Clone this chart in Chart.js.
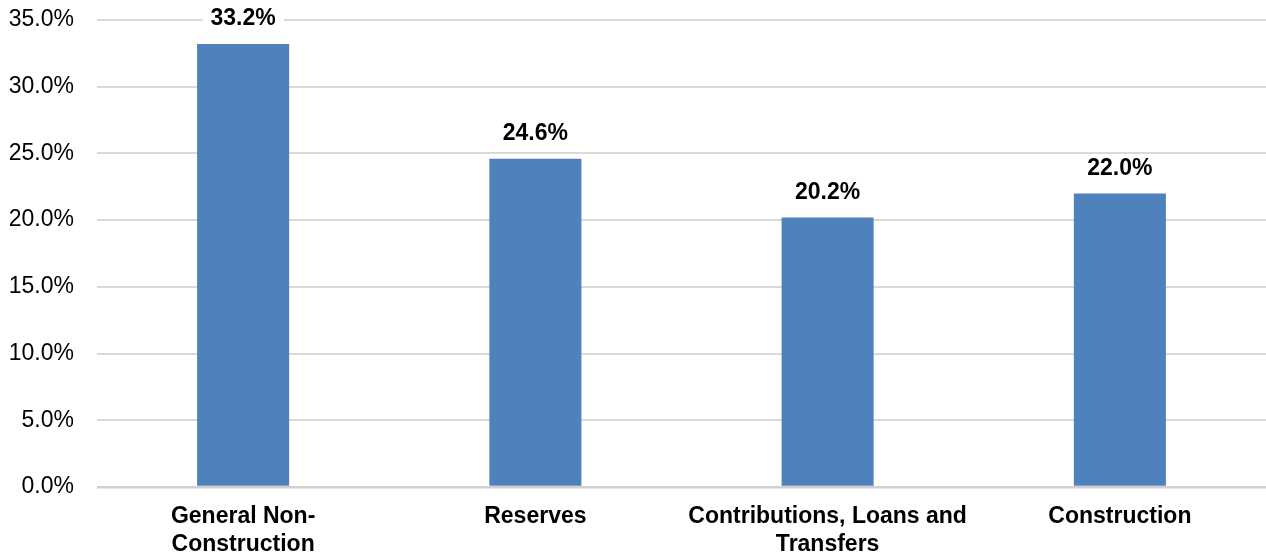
<!DOCTYPE html>
<html>
<head>
<meta charset="utf-8">
<script src="https://cdn.jsdelivr.net/npm/chart.js@4/dist/chart.umd.min.js"></script>
<style>
  html, body { margin: 0; padding: 0; background: #fff; }
  #wrap { width: 1266px; height: 552px; position: relative; }
</style>
</head>
<body>
<div id="wrap"><canvas id="chart"></canvas></div>
<script>
const categories = [
  ['General Non-', 'Construction'],
  'Reserves',
  ['Contributions, Loans and', 'Transfers'],
  'Construction'
];
const shares = [33.2, 24.6, 20.2, 22.0];
const yTicks = [0, 5, 10, 15, 20, 25, 30, 35];

const FONT = '"Liberation Sans", Arial, sans-serif';

// value labels above bars, with a white box that cuts the gridline
const valueLabels = {
  id: 'valueLabels',
  afterDatasetsDraw(chart) {
    const ctx = chart.ctx;
    const meta = chart.getDatasetMeta(0);
    ctx.save();
    ctx.font = 'bold 23px ' + FONT;
    ctx.textAlign = 'center';
    ctx.textBaseline = 'middle';
    meta.data.forEach((bar, i) => {
      const text = shares[i].toFixed(1) + '%';
      const w = ctx.measureText(text).width;
      const y = bar.y - 25;
      ctx.fillStyle = '#fff';
      ctx.fillRect(bar.x - w / 2 - 8, y - 13, w + 16, 26);
      ctx.fillStyle = '#000';
      ctx.fillText(text, bar.x, y);
    });
    ctx.restore();
  }
};

new Chart(document.getElementById('chart'), {
  type: 'bar',
  data: {
    labels: categories,
    datasets: [{
      data: shares,
      backgroundColor: '#4f81bd',
      barPercentage: 0.315,
      categoryPercentage: 1
    }]
  },
  options: {
    responsive: true,
    maintainAspectRatio: false,
    animation: false,
    layout: { padding: { top: 20, right: 0, left: 0, bottom: 0 } },
    plugins: {
      legend: { display: false },
      tooltip: { enabled: false }
    },
    scales: {
      x: {
        grid: { display: false, drawTicks: false },
        border: { display: false },
        ticks: {
          color: '#000',
          padding: 16,
          maxRotation: 0,
          autoSkip: false,
          font: { family: FONT, size: 23, weight: 'bold', lineHeight: 1.2 }
        },
        afterFit(scale) {
          scale.height = 65;
          scale.paddingLeft = 0;
          scale.paddingRight = 0;
        }
      },
      y: {
        min: 0,
        max: 35,
        afterBuildTicks(scale) { scale.ticks = yTicks.map((v) => ({ value: v })); },
        grid: {
          drawTicks: false,
          lineWidth: (c) => (c.tick && c.tick.value === 0 ? 2.5 : 2),
          color: (c) => (c.tick && c.tick.value === 0 ? '#d0d0d0' : '#d9d9d9')
        },
        border: { display: false },
        ticks: {
          color: '#000',
          padding: 23,
          font: { family: FONT, size: 23 },
          callback: (v) => v.toFixed(1) + '%'
        },
        afterFit(scale) {
          scale.width = 97;
          scale.paddingTop = 0;
          scale.paddingBottom = 0;
        }
      }
    }
  },
  plugins: [valueLabels]
});
</script>
</body>
</html>
